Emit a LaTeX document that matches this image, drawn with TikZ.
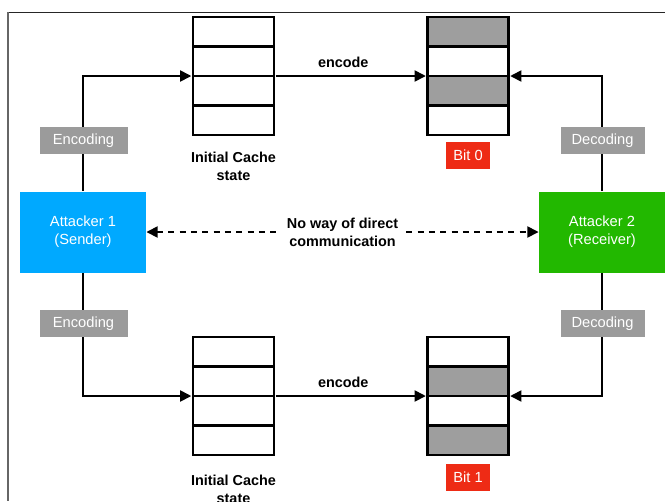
\documentclass[tikz,border=0pt]{standalone}
\usepackage{fontspec}
\setmainfont{Liberation Sans}
\usetikzlibrary{arrows.meta,fit}
\definecolor{lblgray}{HTML}{9B9B9B}
\definecolor{cachegray}{HTML}{9E9E9E}
\definecolor{sendblue}{HTML}{00A9FF}
\definecolor{recvgreen}{HTML}{22B800}
\definecolor{bitred}{HTML}{EE2B15}
\begin{document}
\begin{tikzpicture}[x=0.75pt,y=-0.75pt,
  txt/.style={font=\fontsize{11}{13.5}\selectfont},
  btxt/.style={font=\bfseries\fontsize{10.8}{13.5}\selectfont, align=center, inner sep=1pt},
  lbl/.style={txt, fill=lblgray, text=white, minimum height=20.25pt, inner sep=0pt},
  attacker/.style={txt, text=white, align=center, minimum width=94.5pt, minimum height=60.75pt, inner sep=0pt},
  bitbox/.style={txt, fill=bitred, text=white, minimum width=33pt, minimum height=20.25pt, inner sep=0pt},
  cacherow/.style={draw, line width=1.9pt, minimum width=60.75pt, minimum height=22.125pt, inner sep=0pt},
  grayrow/.style={cacherow, fill=cachegray},
  arr/.style={line width=2.2pt, -{Triangle[length=8.5pt,width=8pt]}},
  darr/.style={line width=2.2pt, dash pattern=on 4.5pt off 4pt, {Triangle[length=8.5pt,width=8pt]}-{Triangle[length=8.5pt,width=8pt]}}
]
\useasboundingbox (0,0) rectangle (665,501);
% frame
\draw[line width=1pt, black!85] (7,12.5) -- (665,12.5);
\draw[line width=1.5pt, black!60] (7.5,12) -- (7.5,501);

% attackers
\node[attacker, fill=sendblue] (att1) at (83,232) {Attacker 1\\(Sender)};
\node[attacker, fill=recvgreen] (att2) at (602,232) {Attacker 2\\(Receiver)};

% top-left cache (initial)
\node[cacherow] (a1) at (233.5,31.75) {};
\node[cacherow] (a2) at (233.5,61.25) {};
\node[cacherow] (a3) at (233.5,90.75) {};
\node[cacherow] (a4) at (233.5,120.25) {};
\node[fit=(a1)(a4), inner sep=0pt] (cA) {};
% top-right cache (bit 0)
\node[grayrow] (b1) at (468,31.75) {};
\node[cacherow] (b2) at (468,61.25) {};
\node[grayrow] (b3) at (468,90.75) {};
\node[cacherow] (b4) at (468,120.25) {};
\node[fit=(b1)(b4), inner sep=0pt] (cB) {};
% bottom-left cache (initial)
\node[cacherow] (c1) at (233.5,351.75) {};
\node[cacherow] (c2) at (233.5,381.25) {};
\node[cacherow] (c3) at (233.5,410.75) {};
\node[cacherow] (c4) at (233.5,440.25) {};
\node[fit=(c1)(c4), inner sep=0pt] (cC) {};
% bottom-right cache (bit 1)
\node[cacherow] (d1) at (468,351.75) {};
\node[grayrow] (d2) at (468,381.25) {};
\node[cacherow] (d3) at (468,410.75) {};
\node[grayrow] (d4) at (468,440.25) {};
\node[fit=(d1)(d4), inner sep=0pt] (cD) {};

% connectors
\draw[arr] (att1.north) |- (cA.west);
\draw[arr] (cA.east) -- (cB.west) node[btxt, pos=0.45, above=4pt] {encode};
\draw[arr] (att2.north) |- (cB.east);
\draw[arr] (att1.south) |- (cC.west);
\draw[arr] (cC.east) -- (cD.west) node[btxt, pos=0.45, above=4pt] {encode};
\draw[arr] (att2.south) |- (cD.east);

% dashed link
\draw[darr] (att1.east) -- (att2.west)
  node[btxt, pos=0.5, fill=white, inner xsep=6pt, inner ysep=0pt] (noway) {No way of direct\\communication};

% labels
\node[lbl, minimum width=66pt] (enc1) at (83.5,140.5) {Encoding};
\node[lbl, minimum width=63pt] (dec1) at (602.5,140.5) {Decoding};
\node[lbl, minimum width=66pt] (enc2) at (83.5,323.5) {Encoding};
\node[lbl, minimum width=63pt] (dec2) at (602.5,323.5) {Decoding};

\node[bitbox] (bit0) at (468,155.5) {Bit 0};
\node[bitbox] (bit1) at (468,477) {Bit 1};

\node[btxt] (initA) at (233.5,166) {Initial Cache\\state};
\node[btxt] (initC) at (233.5,489) {Initial Cache\\state};
\end{tikzpicture}
\end{document}
